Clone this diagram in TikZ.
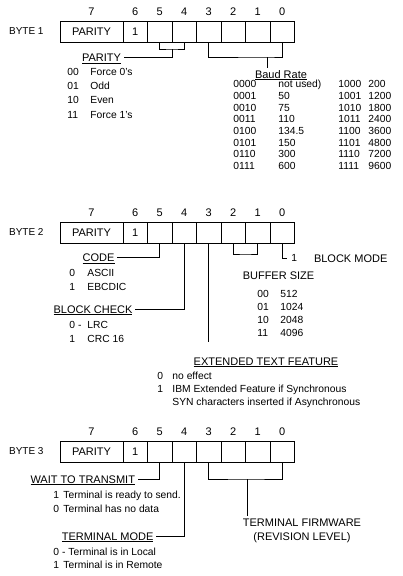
\documentclass[tikz,border=0pt]{standalone}
\usepackage{fontspec}
\setmainfont{Liberation Sans}
\usetikzlibrary{positioning}
\tikzset{
    every picture/.style={line width=0.9pt},
    % register cells
    bitbox/.style={rectangle,draw,line width=1pt,minimum width=24.5pt,minimum height=21pt,inner sep=0pt,outer sep=0pt},
    paritybox/.style={bitbox,minimum width=63pt},
    bitnum/.style={inner sep=0pt,text height=7.5pt,text depth=0pt},
    bytelbl/.style={inner sep=0pt,font=\fontsize{10}{12}\selectfont},
    % field names and value lists
    fieldlbl/.style={inner sep=0pt,outer sep=2.5pt,text height=8pt,text depth=0pt,font=\fontsize{11}{13}\selectfont},
    twolinelbl/.style={inner sep=0pt,outer sep=2.5pt,align=center,font=\fontsize{11}{14}\selectfont},
    entry/.style={inner sep=0pt,anchor=west,text height=7.5pt,text depth=0pt,font=\fontsize{10.3}{12}\selectfont},
    link/.style={line width=0.9pt}
}

\begin{document}
\begin{tikzpicture}[x=1pt,y=-1pt,font=\fontsize{11}{13}\selectfont]
    \useasboundingbox (0,0) rectangle (403,576);

    % Register rows
    \foreach \bt/\y in {1/31.5,2/232.5,3/451.5}{
        \node[paritybox] (b\bt c7) at (91.5,\y) {PARITY};
        \node[bitbox,right=0pt of b\bt c7] (b\bt c6) {1};
        \node[bitbox,right=0pt of b\bt c6] (b\bt c5) {};
        \node[bitbox,right=0pt of b\bt c5] (b\bt c4) {};
        \node[bitbox,right=0pt of b\bt c4] (b\bt c3) {};
        \node[bitbox,right=0pt of b\bt c3] (b\bt c2) {};
        \node[bitbox,right=0pt of b\bt c2] (b\bt c1) {};
        \node[bitbox,right=0pt of b\bt c1] (b\bt c0) {};
        \node[bytelbl,left=16pt of b\bt c7] (byte\bt) {BYTE \bt};
        \foreach \k in {7,...,0}
            \node[bitnum,above=5pt of b\bt c\k] (n\bt c\k) {\k};
    }

    % Byte 1: parity
    \coordinate (par1) at (172,49);
    \draw[link] (b1c5.south) |- (par1) -| (b1c4.south);
    \node[fieldlbl,anchor=east] (lpar1) at (123.5,57.5) {\underline{PARITY}};
    \draw[link] (par1) |- (lpar1.east);
    \node[entry] (p00) at (67,71.5) {00};  \node[entry] (p00t) at (90,71.5) {Force 0's};
    \node[entry] (p01) at (67,85.8) {01};  \node[entry] (p01t) at (90,85.8) {Odd};
    \node[entry] (p10) at (67,100) {10};   \node[entry] (p10t) at (90,100) {Even};
    \node[entry] (p11) at (67,114.3) {11}; \node[entry] (p11t) at (90,114.3) {Force 1's};

    % Byte 1: baud rate
    \coordinate (baud1) at (267,57);
    \draw[link] (b1c3.south) |- (baud1) -| (b1c0.south);
    \node[fieldlbl,anchor=north] (lbaud) at (281,67.5) {\underline{Baud Rate}};
    \draw[link] (baud1) -- (baud1 |- lbaud.north);
    \node[entry] (bd0) at (233,84) {0000};    \node[entry] (bd0v) at (278,84) {not used)};
    \node[entry] (bd1) at (233,95.7) {0001};  \node[entry] (bd1v) at (278,95.7) {50};
    \node[entry] (bd2) at (233,107.4) {0010}; \node[entry] (bd2v) at (278,107.4) {75};
    \node[entry] (bd3) at (233,119.1) {0011}; \node[entry] (bd3v) at (278,119.1) {110};
    \node[entry] (bd4) at (233,130.8) {0100}; \node[entry] (bd4v) at (278,130.8) {134.5};
    \node[entry] (bd5) at (233,142.5) {0101}; \node[entry] (bd5v) at (278,142.5) {150};
    \node[entry] (bd6) at (233,154.2) {0110}; \node[entry] (bd6v) at (278,154.2) {300};
    \node[entry] (bd7) at (233,165.9) {0111}; \node[entry] (bd7v) at (278,165.9) {600};
    \node[entry] (bd8) at (338,84) {1000};    \node[entry] (bd8v) at (368,84) {200};
    \node[entry] (bd9) at (338,95.7) {1001};  \node[entry] (bd9v) at (368,95.7) {1200};
    \node[entry] (bd10) at (338,107.4) {1010}; \node[entry] (bd10v) at (368,107.4) {1800};
    \node[entry] (bd11) at (338,119.1) {1011}; \node[entry] (bd11v) at (368,119.1) {2400};
    \node[entry] (bd12) at (338,130.8) {1100}; \node[entry] (bd12v) at (368,130.8) {3600};
    \node[entry] (bd13) at (338,142.5) {1101}; \node[entry] (bd13v) at (368,142.5) {4800};
    \node[entry] (bd14) at (338,154.2) {1110}; \node[entry] (bd14v) at (368,154.2) {7200};
    \node[entry] (bd15) at (338,165.9) {1111}; \node[entry] (bd15v) at (368,165.9) {9600};

    % Byte 2: code and block check
    \node[fieldlbl,anchor=east] (lcode) at (117,257.5) {\underline{CODE}};
    \draw[link] (b2c5.south) |- (lcode.east);
    \node[entry] (c0) at (69,273) {0}; \node[entry] (c0t) at (87,273) {ASCII};
    \node[entry] (c1) at (69,287) {1}; \node[entry] (c1t) at (87,287) {EBCDIC};
    \node[fieldlbl,anchor=east] (lblock) at (135,309) {\underline{BLOCK CHECK}};
    \draw[link] (b2c4.south) |- (lblock.east);
    \node[entry] (k0) at (69,325) {0 -}; \node[entry] (k0t) at (87,325) {LRC};
    \node[entry] (k1) at (69,339) {1};   \node[entry] (k1t) at (87,339) {CRC 16};

    % Byte 2: extended text feature
    \coordinate (ext2) at (208.75,342);
    \draw[link] (b2c3.south) -- (ext2);
    \node[fieldlbl] (lext) at (266,361) {\underline{EXTENDED TEXT FEATURE}};
    \node[entry] (e0) at (157,376) {0}; \node[entry] (e0t) at (172,376) {no effect};
    \node[entry] (e1) at (157,389) {1}; \node[entry] (e1t) at (172,389) {IBM Extended Feature if Synchronous};
    \node[entry] (e1u) at (172,402) {SYN characters inserted if Asynchronous};

    % Byte 2: buffer size and block mode
    \coordinate (buf2) at (245.5,254);
    \draw[link] (b2c2.south) |- (buf2) -| (b2c1.south);
    \node[fieldlbl] (lbuf) at (278.5,275) {BUFFER SIZE};
    \node[entry] (s00) at (257,294) {00}; \node[entry] (s00t) at (280,294) {512};
    \node[entry] (s01) at (257,307) {01}; \node[entry] (s01t) at (280,307) {1024};
    \node[entry] (s10) at (257,320) {10}; \node[entry] (s10t) at (280,320) {2048};
    \node[entry] (s11) at (257,333) {11}; \node[entry] (s11t) at (280,333) {4096};
    \coordinate (bm2) at (287,258);
    \draw[link] (b2c0.south) |- (bm2);
    \node[entry] (bm2v) at (291,258) {1};
    \node[fieldlbl,anchor=west] (lbm) at (311.5,258) {BLOCK MODE};

    % Byte 3: wait to transmit and terminal mode
    \node[fieldlbl,anchor=east] (lwait) at (137.5,479) {\underline{WAIT TO TRANSMIT}};
    \draw[link] (b3c5.south) |- (lwait.east);
    \node[entry] (w1) at (53,495) {1}; \node[entry] (w1t) at (63,495) {Terminal is ready to send.};
    \node[entry] (w0) at (53,509) {0}; \node[entry] (w0t) at (63,509) {Terminal has no data};
    \node[fieldlbl,anchor=east] (lmode) at (156,536) {\underline{TERMINAL MODE}};
    \draw[link] (b3c4.south) |- (lmode.east);
    \node[entry] (m0) at (53,552) {0 -}; \node[entry] (m0t) at (68,552) {Terminal is in Local};
    \node[entry] (m1) at (53,565) {1};   \node[entry] (m1t) at (63,565) {Terminal is in Remote};

    % Byte 3: firmware level
    \coordinate (fw3) at (247,479);
    \draw[link] (b3c3.south) |- (fw3) -| (b3c0.south);
    \node[twolinelbl,anchor=north] (lfw) at (302,516) {TERMINAL FIRMWARE\\(REVISION LEVEL)};
    \draw[link] (fw3) -- (fw3 |- lfw.north);
\end{tikzpicture}
\end{document}
